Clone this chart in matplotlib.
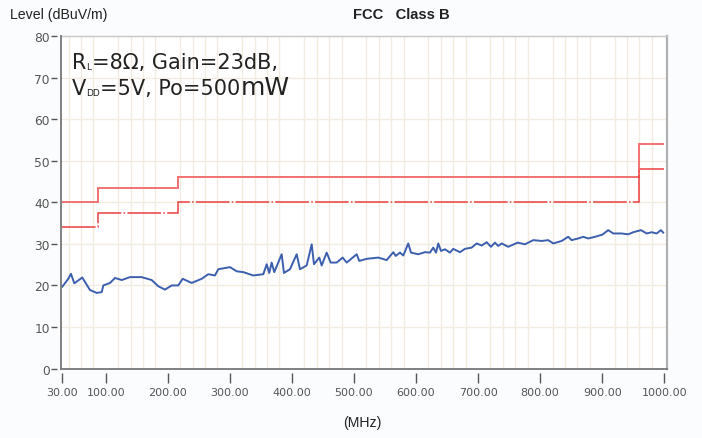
import numpy as np
import matplotlib.pyplot as plt
from matplotlib.transforms import IdentityTransform

freq = [30, 38.7, 44, 49.3, 62.2, 74.6, 85.4, 93.5, 96.1, 106.9, 114.9, 125.7, 139.1, 157.9,
        174.1, 184.7, 195.5, 206.3, 216.9, 224, 238.5, 254.6, 265.3, 276,
        281.4, 300.2, 311, 321.7, 337.8, 353.9, 359.4, 363.5, 367.4, 371.6, 383.5, 387.2, 396.9,
        407.7, 413, 423.8, 431.9, 435.6, 444.1, 448, 456, 462.5, 472.1, 481.8, 488.3, 504.4,
        508.6, 520.5,
        539.2, 552.7, 563.4, 567.2, 574.2, 579.5, 587.5, 591.9, 603.6, 614.4, 622.5, 627.8,
        632.2, 635.9, 640.2, 646.6, 654.7, 660, 670.8, 678.9, 689.7, 697.7, 705.8, 713.9,
        720.8, 727.2, 732.5, 738, 748.7, 763.8, 775.6,
        789, 802.5, 813.1, 821.2, 834.7, 845.3, 850.8, 861.4, 869.5, 877.6, 888.4, 900.1,
        909.8, 917.8, 931.4, 942, 950.1, 962.5, 971.7, 979.7, 987.8, 994.7, 998.4]
level = [19.7, 21.4, 22.8, 20.5, 21.9, 18.9, 18.2, 18.4, 20.0, 20.6, 21.8, 21.3, 22.0, 22.0,
         21.3, 19.8, 19.0, 20.0, 20.0, 21.6, 20.6, 21.6, 22.7, 22.4,
         23.9, 24.4, 23.4, 23.2, 22.4, 22.7, 25.1, 23.0, 25.5, 23.2, 27.5, 23.0, 23.9,
         27.5, 23.9, 24.8, 29.9, 25.1, 26.7, 24.8, 27.9, 25.5, 25.5, 26.7, 25.5, 27.5,
         25.9, 26.4,
         26.7, 26.1, 28.0, 27.1, 27.9, 27.2, 30.1, 27.9, 27.5, 28.0, 27.9, 29.1,
         27.9, 30.1, 28.3, 28.7, 27.9, 28.8, 28.0, 28.8, 29.1, 30.1, 29.6, 30.4,
         29.3, 30.3, 29.5, 30.1, 29.3, 30.3, 29.9,
         30.9, 30.7, 30.9, 30.1, 30.7, 31.7, 30.9, 31.3, 31.7, 31.3, 31.7, 32.2,
         33.3, 32.5, 32.5, 32.3, 32.8, 33.3, 32.5, 32.8, 32.5, 33.3, 32.7]

# FCC class B limits (QP solid, dash-dot lower line)
limit_edges = [30, 88, 216, 960, 1000]
qp_limit = [40, 43.5, 46, 54]
avg_limit = [34, 37.5, 40, 48]

xticks = [30, 100, 200, 300, 400, 500, 600, 700, 800, 900, 1000]
yticks = [0, 10, 20, 30, 40, 50, 60, 70, 80]

W, H = 702, 439
fig = plt.figure(figsize=(W/100, H/100), dpi=100, facecolor='#fbfcfd')
ax = fig.add_axes([61/W, 1 - 370/H, 605.7/W, 333/H])
ax.set_facecolor('white')

ax.set_xlim(27.9, 1004)
ax.set_ylim(-0.1, 80)

# grid: every 20 MHz vertically, every 10 dB horizontally
ax.set_xticks(np.arange(40, 1000, 20), minor=True)
ax.set_yticks(yticks)
ax.set_xticks(xticks)
ax.set_xticklabels(['%.2f' % v for v in xticks])
ax.grid(True, which='minor', axis='x', color='#f1ebe0', lw=1.0, zorder=0)
ax.grid(True, which='major', axis='y', color='#f1ebe0', lw=1.0, zorder=0)
ax.set_axisbelow(True)

ax.tick_params(axis='x', which='minor', length=0)
ax.tick_params(axis='x', which='major', length=7, width=1, color='#555', pad=3,
               labelsize=8, labelcolor='#555')
ax.tick_params(axis='y', length=4, width=1, color='#555', pad=1,
               labelsize=8.8, labelcolor='#555')
for lab in ax.get_xticklabels():
    lab.set_family('Liberation Mono')
for lab in ax.get_yticklabels():
    lab.set_family('Liberation Sans')

ax.spines['left'].set_position(('outward', 3))
ax.spines['bottom'].set_position(('outward', 3))
ax.spines['left'].set_visible(False)
ax.spines['bottom'].set_visible(False)
ax.spines['top'].set_color('#c8c8c8')
ax.spines['top'].set_linewidth(1.0)
ax.spines['right'].set_color('#b0b0b0')
ax.spines['right'].set_linewidth(1.6)
ax.plot([0, 0], [0, 1], transform=ax.transAxes, color='#777', lw=1.3, clip_on=False, zorder=5)
ax.plot([0, 1], [0, 0], transform=ax.transAxes, color='#777', lw=1.3, clip_on=False, zorder=5)

ax.stairs(qp_limit, limit_edges, color='#f27272', lw=1.4, baseline=None, zorder=3)
ax.stairs(avg_limit, limit_edges, color='#ea4040', lw=1.1, baseline=None, zorder=3,
          linestyle=(0, (22, 1.5, 1, 1.5)))
ax.plot(freq, level, color='#3c5fae', lw=1.4, zorder=4)

fig.text(10/W, 1 - 15/H, 'Level (dBuV/m)', fontsize=10.2, family='Liberation Sans',
         color='#222', va='center', ha='left')
fig.text(401/W, 1 - 15/H, 'FCC   Class B', fontsize=10.6, family='Liberation Sans',
         weight='bold', color='#222', va='center', ha='center')
fig.text(362/W, 1 - 423/H, '(MHz)', fontsize=10.2, family='Liberation Sans',
         color='#222', va='center', ha='center')

# annotation, pieced together in pixel coordinates so subscripts stay small
renderer = fig.canvas.get_renderer()


def put(x, y, s, size):
    t = fig.text(x, y, s, fontsize=size, color='#222', va='baseline', ha='left',
                 transform=IdentityTransform())
    return t.get_window_extent(renderer).x1


x = put(72, H - 69, 'R', 15)
x = put(x, H - 70.5, 'L', 6.5)
put(x + 0.5, H - 69, '=8Ω, Gain=23dB,', 15)
x = put(72, H - 95, 'V', 15)
x = put(x, H - 96, 'DD', 6.5)
x = put(x + 0.5, H - 95, '=5V, Po=500', 15)
put(x, H - 95, 'mW', 18)

fig.savefig('out.png', dpi=100, facecolor=fig.get_facecolor())
